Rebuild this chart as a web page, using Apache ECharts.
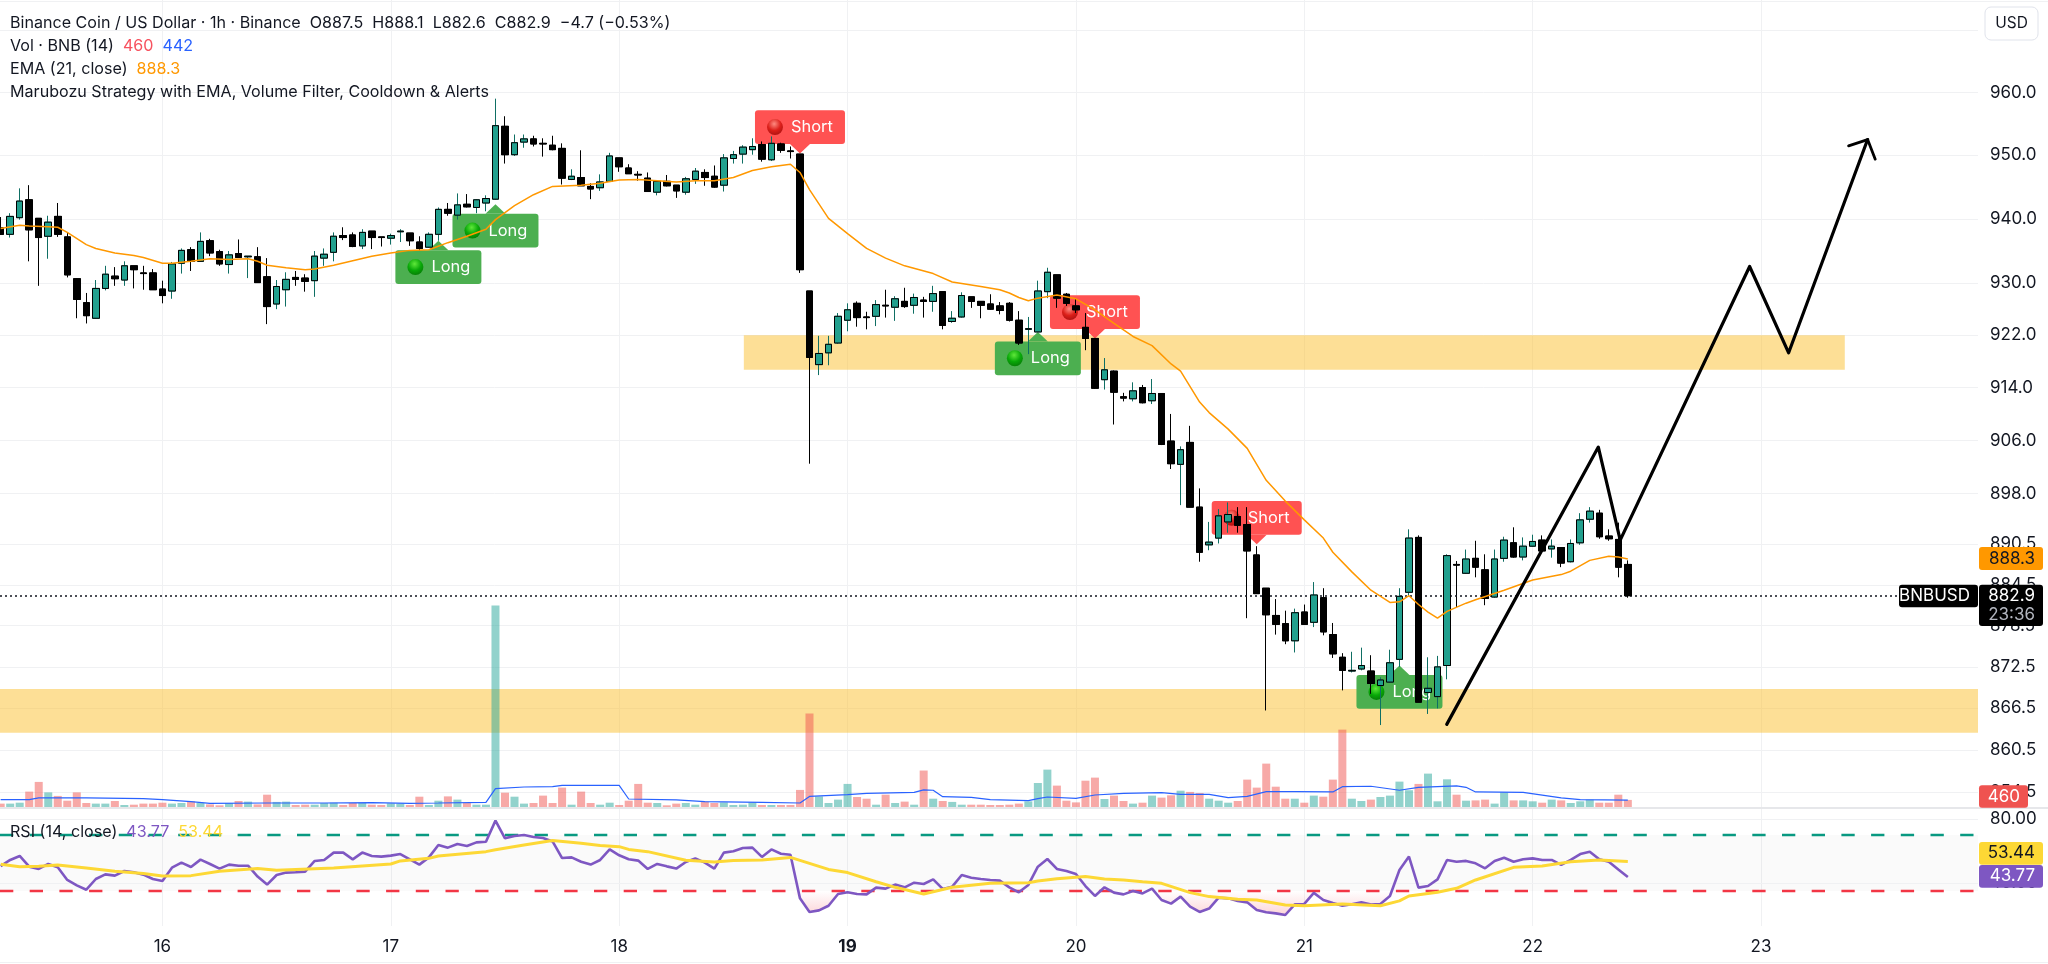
<!DOCTYPE html>
<html><head><meta charset="utf-8">
<style>html,body{margin:0;padding:0;background:#fff}#c{width:2048px;height:964px}</style>
<script src="https://cdn.jsdelivr.net/npm/echarts@6/dist/echarts.min.js"></script></head>
<body><div id="c"></div>
<script>
// Hours since the start of day "16"; first candle is hour -17.
const firstHour = -17;
const dayTicks = [0,24,48,72,96,120,144,168];
const dayLabels = ['16','17','18','19','20','21','22','23'];
const priceTicks = [970,960,950,940,930,922,914,906,898,890.5,884.5,878.5,872.5,866.5,860.5,854.5];
const rsiTicks = [80,40];
// [open, close, low, high]
const ohlc = [
[938.6,937.6,937.5,940.3],[937.6,940.4,937.1,940.9],[940.2,942.8,939.9,944.8],[943.0,938.3,933.4,945.3],[940.1,937.1,929.6,940.1],
[937.3,939.5,933.8,940.5],[940.4,937.6,937.2,942.5],[937.2,931.3,930.9,937.8],[930.7,927.5,924.6,930.8],[927.0,925.0,923.8,928.5],
[924.6,929.2,924.5,930.5],[929.2,931.4,928.9,932.7],[931.1,930.7,929.6,932.5],[930.5,932.7,929.6,933.4],[932.7,932.1,929.2,932.7],
[931.6,931.5,929.0,932.7],[931.6,929.0,929.0,932.2],[929.1,928.1,926.9,930.4],[928.8,933.0,927.6,933.3],[933.1,935.1,931.5,935.4],
[935.2,933.4,931.9,935.6],[933.4,936.5,933.4,937.9],[936.6,934.7,934.2,936.9],[934.9,933.0,932.7,935.2],[932.9,934.4,931.5,935.0],
[934.6,934.0,934.0,936.8],[934.1,934.2,930.8,934.2],[934.1,930.1,930.1,935.6],[931.0,926.4,923.7,933.9],[926.8,929.5,926.0,930.5],
[929.0,930.6,926.4,931.7],[930.9,930.6,929.6,931.9],[930.8,930.3,928.7,931.4],[930.4,934.2,927.9,935.0],[933.9,934.5,932.7,935.4],
[934.8,937.3,933.4,937.9],[937.4,937.1,936.7,938.7],[937.5,935.7,935.6,937.9],[935.8,937.9,935.3,938.4],[938.1,937.1,935.3,938.1],
[937.2,937.1,935.7,937.2],[937.0,937.4,936.0,937.7],[938.0,938.1,936.4,938.4],[937.8,936.6,935.8,937.8],[936.4,935.4,935.1,937.3],
[935.6,937.6,935.5,937.9],[937.6,941.5,936.6,941.8],[941.5,940.9,940.5,942.5],[940.6,942.2,939.9,944.0],[942.3,941.9,941.8,943.9],
[941.8,943.0,940.9,943.1],[942.5,943.2,941.2,943.7],[943.1,954.7,943.0,959.0],[954.6,950.1,948.7,956.2],[950.1,952.0,949.9,953.3],
[952.1,952.6,951.2,953.3],[952.6,951.8,951.4,953.1],[951.9,951.8,949.8,952.7],[951.6,950.9,950.8,953.1],[951.1,946.4,945.4,951.9],
[946.2,946.7,946.1,947.8],[946.5,945.2,945.2,950.8],[945.1,944.7,943.1,945.6],[944.9,945.8,944.4,947.0],[945.9,949.9,945.8,950.4],
[949.6,948.2,947.4,949.6],[948.0,947.1,947.1,948.6],[947.0,946.9,946.0,947.5],[946.4,944.3,944.3,947.3],[944.2,945.9,943.7,946.1],
[945.9,945.2,945.1,946.9],[945.3,944.4,943.3,945.3],[944.2,946.3,943.8,946.6],[946.2,947.5,945.5,948.0],[947.3,946.5,945.2,947.8],
[946.7,945.0,944.9,948.4],[945.3,949.6,944.3,950.2],[949.5,950.1,948.7,950.7],[950.2,951.3,948.7,951.6],[950.9,951.4,950.1,952.7],
[951.7,949.4,949.0,952.2],[949.3,951.9,949.1,953.0],[951.8,950.8,950.4,952.0],[950.7,950.6,949.5,951.4],[950.2,932.1,931.6,950.2],
[928.8,918.6,902.5,928.8],[917.5,919.2,915.9,921.9],[919.3,920.6,917.4,921.9],[920.8,924.9,920.7,925.4],[924.3,925.9,922.6,926.9],
[926.9,924.7,923.3,927.2],[924.8,924.7,922.9,925.6],[924.9,926.7,923.4,927.4],[926.6,926.5,924.7,929.0],[926.3,927.6,924.2,928.0],
[927.2,926.4,926.2,929.3],[926.6,927.8,925.3,928.4],[927.4,927.2,924.7,927.9],[927.2,928.4,925.6,929.6],[928.7,923.5,922.9,928.7],
[924.1,924.6,923.9,925.7],[924.8,928.1,924.7,928.6],[927.9,927.2,926.2,927.9],[927.2,926.6,924.6,927.2],[926.8,926.0,925.9,928.3],
[926.5,925.8,925.2,927.1],[926.9,924.3,924.1,927.1],[924.3,920.8,920.5,925.7],[922.9,923.0,919.1,924.8],[922.5,928.8,922.5,930.4],
[928.7,931.7,927.7,932.4],[931.3,927.7,926.2,931.3],[928.3,926.9,926.5,928.5],[926.5,925.9,925.4,927.6],[923.2,921.5,919.7,925.4],
[921.5,913.9,913.8,921.5],[915.2,916.7,913.7,918.5],[916.5,913.3,908.4,916.6],[912.6,912.4,911.9,913.2],[912.3,913.5,911.9,914.8],
[914.0,911.7,911.6,914.4],[912.0,913.1,911.5,915.3],[913.1,905.4,905.3,913.1],[905.9,902.5,901.7,910.0],[902.4,904.6,896.3,905.1],
[905.7,896.0,896.0,908.2],[896.0,889.3,887.9,898.8],[890.4,890.8,889.6,893.8],[891.4,894.7,890.6,895.7],[893.8,894.9,892.2,896.7],
[894.6,893.3,892.2,896.0],[893.4,889.5,879.6,896.0],[888.9,883.2,883.2,890.2],[884.0,880.1,866.2,884.0],[880.0,878.7,877.2,882.4],
[878.8,876.3,875.8,880.7],[876.3,880.4,874.6,881.0],[880.5,878.7,878.6,881.6],[879.0,883.0,878.3,884.9],[882.6,877.6,877.1,884.0],
[877.2,874.4,873.8,878.9],[873.9,872.0,869.1,874.5],[871.9,872.0,871.7,874.7],[872.2,872.7,872.0,875.3],[871.9,870.1,868.6,874.2],
[869.8,870.6,864.1,871.0],[870.3,873.1,870.2,875.0],[873.6,882.8,872.5,884.0],[883.4,891.4,882.8,892.7],[891.5,867.4,867.4,891.8],
[868.8,869.4,865.7,873.9],[868.2,872.5,866.5,874.1],[872.7,888.8,870.7,889.0],[887.5,887.4,881.2,888.0],[886.2,888.3,886.1,889.7],
[888.4,887.1,885.6,891.0],[886.7,882.5,881.5,889.0],[882.7,888.3,882.6,889.7],[888.4,891.1,887.9,891.6],[890.7,888.6,888.5,893.0],
[888.6,890.2,888.1,891.5],[890.2,890.9,890.1,891.9],[891.1,889.5,889.5,891.8],[889.8,890.2,888.5,891.2],[890.0,887.7,887.1,890.0],
[887.9,890.6,887.8,891.2],[890.7,894.1,890.4,895.1],[894.2,895.4,893.7,896.0],[895.1,891.6,891.3,895.6],[891.7,891.3,891.0,892.7],
[891.2,887.1,885.6,893.7],[887.5,882.9,882.6,888.1]];
const volumes = [220,220,280,1000,1630,950,720,410,950,260,220,220,390,130,150,220,220,280,220,260,370,260,170,110,260,390,350,170,800,330,350,130,150,150,260,280,130,260,260,150,130,240,220,130,670,130,410,690,480,260,150,150,13100,930,670,220,260,740,260,1260,150,1000,260,150,280,130,410,1500,280,260,110,220,260,150,350,260,300,130,150,300,130,130,130,130,1110,6080,690,260,480,1500,650,540,150,800,260,350,150,2370,540,390,330,150,150,150,130,130,150,220,370,1560,2430,1390,410,300,1710,1910,520,740,390,220,280,740,610,760,1060,980,910,540,410,280,390,1780,1260,2820,1320,540,540,280,740,670,1780,5030,540,390,480,650,740,1650,1090,1500,2170,370,1800,800,410,430,480,220,950,430,430,370,280,480,430,260,370,480,280,280,800,460];
const volumeMA = [[0,480],[3,480],[4,590],[9,590],[15,540],[17,480],[20,350],[22,240],[28,260],[34,260],[39,280],[43,240],[46,260],[51,300],[52,1190],[55,1300],[58,1320],[59,1410],[65,1410],[66,520],[71,460],[74,350],[80,300],[84,260],[85,690],[89,800],[91,890],[96,950],[97,1110],[98,1090],[99,670],[102,630],[104,480],[108,410],[109,540],[110,650],[113,560],[115,780],[118,890],[122,930],[124,820],[127,820],[129,610],[131,690],[133,1000],[136,1000],[140,980],[141,1320],[144,1350],[147,1090],[149,1280],[153,1370],[154,1280],[155,980],[160,950],[164,590],[166,480],[171,442]];
const emaPoints = [[0,938.5],[2,939.0],[3,938.9],[5,938.8],[6,938.7],[7,937.9],[9,936.0],[10,935.4],[12,934.7],[14,934.3],[15,934.0],[17,933.1],[18,933.1],[20,933.4],[22,933.8],[24,933.7],[26,933.8],[27,933.4],[28,932.8],[30,932.4],[32,932.1],[33,932.2],[35,932.8],[37,933.5],[39,934.2],[41,934.7],[43,935.1],[45,935.2],[47,936.3],[49,937.3],[51,938.4],[52,939.9],[54,942.1],[56,943.8],[58,945.1],[61,945.3],[63,945.6],[65,946.1],[67,946.2],[69,946.0],[71,945.8],[73,946.0],[75,946.0],[77,946.5],[79,947.6],[81,948.2],[83,948.6],[84,947.3],[85,944.6],[87,940.1],[89,937.7],[91,935.4],[93,933.9],[95,932.7],[98,931.5],[100,930.2],[103,929.5],[105,929.0],[106,928.5],[107,927.8],[108,927.3],[109,927.7],[111,928.2],[113,927.6],[115,925.9],[117,923.8],[119,921.8],[121,920.4],[123,917.6],[124,916.5],[126,911.8],[127,910.2],[129,907.7],[131,904.8],[133,900.0],[135,896.9],[137,894.1],[139,891.4],[140,889.3],[142,886.4],[144,883.7],[146,881.9],[147,882.0],[148,882.9],[149,881.6],[150,880.5],[151,879.6],[152,880.6],[154,881.8],[155,882.3],[158,883.7],[161,885.2],[164,886.0],[165,886.5],[167,888.1],[169,888.7],[170,888.6],[171,888.3]];
const rsi = [50.6,54.4,56.9,50.2,48.8,51.9,49.8,41.9,38.5,35.8,42.5,45.4,44.6,47.5,46.7,45.2,42.5,41.3,49.6,52.7,50.0,54.6,51.9,49.0,51.5,50.8,50.8,44.0,39.0,45.0,46.5,46.7,47.1,53.8,54.4,59.0,59.0,54.8,59.0,56.9,56.5,57.1,58.1,54.8,51.5,56.0,63.8,62.1,64.4,63.1,65.4,65.8,79.0,67.9,69.4,70.0,68.8,68.1,66.0,55.6,56.0,53.3,51.5,54.4,61.0,57.3,54.8,54.0,48.8,51.9,50.4,49.0,53.1,55.4,52.7,49.0,59.0,59.8,61.9,62.1,56.3,61.0,58.3,57.7,30.4,21.9,22.9,25.8,33.1,34.2,33.1,32.9,37.1,36.5,39.0,37.3,40.2,39.4,42.3,36.3,37.7,45.0,43.3,42.5,41.9,41.5,37.3,34.2,38.8,50.2,55.0,48.8,47.5,45.6,38.1,31.9,37.3,34.0,32.9,35.0,33.5,36.5,29.4,27.1,31.5,25.2,21.9,24.0,30.8,30.4,28.8,27.9,23.1,21.7,21.0,20.0,26.7,26.9,33.8,29.4,27.5,25.8,26.7,27.9,26.5,26.9,31.9,48.1,56.5,37.1,38.1,42.3,54.4,53.3,53.8,52.3,49.2,53.8,55.8,53.3,54.8,55.4,54.4,54.4,51.3,54.4,58.1,59.6,54.8,53.3,48.5,43.77];
const rsiMA = [[0,51.7],[2,50.2],[4,50.4],[6,51.3],[9,49.4],[12,47.3],[15,46.0],[17,44.4],[20,44.6],[23,47.3],[27,49.0],[29,47.9],[31,48.5],[35,49.4],[41,51.9],[42,53.8],[45,55.4],[46,56.9],[51,59.6],[52,60.8],[55,63.8],[58,66.5],[61,64.8],[63,63.5],[65,62.7],[66,61.0],[68,59.6],[72,54.2],[75,53.1],[77,54.0],[80,54.4],[83,56.0],[85,52.3],[87,48.5],[89,46.5],[92,40.8],[94,37.3],[97,33.1],[100,37.3],[104,39.8],[108,40.2],[109,41.3],[111,42.7],[114,44.0],[116,42.5],[118,41.9],[120,40.8],[122,39.8],[125,34.0],[127,31.5],[130,29.8],[132,29.4],[135,26.3],[137,25.8],[141,26.9],[145,25.8],[147,28.8],[148,31.9],[151,34.2],[153,36.7],[155,41.9],[159,49.8],[162,50.6],[165,53.3],[168,54.4],[171,53.44]];
const rsiUpper = 70, rsiLower = 35;
// [hour, price at pin tip]
const longSignals = [[29,936.6],[35,942.3],[92,922.5],[130,872.7]];
const shortSignals = [[67,950.3],[98,921.5],[115,890.5]];
// drawn zigzag [hour, price]
const zigzag = [[134.97,864.2],[150.9,905.0],[153.2,891.1],[166.8,932.6],[170.9,919.3],[179.2,952.5]];
const arrowHead = [[177.2,951.5],[179.2,952.5],[180,949.4]];
const zoneUpper = {x:[61.1,176.8], y:[922,916.7]};
const zoneLower = {y:[869.3,863.0]};
const lastClose = 882.9;

const X_MIN = -17.07, X_MAX = 190.8, GRID_W = 1978;
const INK = '#131722', FONT = 'Inter', AXIS_FS = 17, LEG_FS = 16.1;
const hours = ohlc.map((_, i) => firstHour + i);
const hr = i => firstHour + i;
const isUp = i => ohlc[i][1] >= ohlc[i][0];
const fullCandles = ohlc.map((r, i) => [hours[i], r[0], r[1], r[2], r[3]]);
const bodyCandles = ohlc.map((r, i) => [hours[i], r[0], r[1], Math.min(r[0], r[1]), Math.max(r[0], r[1])]);
const gridLine = '#f0f1f3';

function xAxis(idx, extra) {
  return Object.assign({
    type:'value', gridIndex:idx, min:X_MIN, max:X_MAX,
    axisLine:{show:false},
    axisTick:{show:false, customValues:dayTicks},
    axisLabel:{show:false, customValues:dayTicks},
    splitLine:{show:false}
  }, extra||{});
}
function pin(isLong, list) {
  return {
    type:'custom', xAxisIndex:0, yAxisIndex:0, z:3, clip:false, silent:true,
    encode:{x:0,y:1}, data:list,
    renderItem(params, api) {
      const p = api.coord([api.value(0), api.value(1)]);
      const w = isLong ? 86 : 90, h = 33.7, gap = 9.5;
      const left = p[0] - w/2, top = isLong ? p[1]+gap : p[1]-gap-h;
      const base = isLong ? top : top+h;
      const fill = isLong ? '#4caf50' : '#ff5252';
      const ball = isLong
        ? [{offset:0,color:'#5fe83a'},{offset:.55,color:'#08a808'},{offset:1,color:'#057a05'}]
        : [{offset:0,color:'#ff8a80'},{offset:.55,color:'#dc1f1a'},{offset:1,color:'#a81010'}];
      return {type:'group', children:[
        {type:'rect', shape:{x:left,y:top,width:w,height:h,r:3}, style:{fill}},
        {type:'polygon', shape:{points:[[p[0],p[1]],[p[0]-10,base],[p[0]+10,base]]}, style:{fill}},
        {type:'circle', shape:{cx:left+20,cy:top+h/2,r:8}, style:{fill:{type:'radial',x:.45,y:.3,r:.75,colorStops:ball}}},
        {type:'text', style:{x:left+36,y:top+h/2,text:isLong?'Long':'Short',fill:'#fff',font:'400 16.4px '+FONT,verticalAlign:'middle',textAlign:'left'}}
      ]};
    }
  };
}
const priceMarks = {
  type:'line', xAxisIndex:0, yAxisIndex:0, data:[], z:0, silent:true,
  markLine:{silent:true, symbol:['none','none'], animation:false, z:0,
    lineStyle:{color:gridLine,width:1,type:'solid'},
    label:{position:'end',distance:12,color:INK,fontFamily:FONT,fontSize:AXIS_FS,formatter:p=>p.value===970?'':Number(p.value).toFixed(1)},
    data:priceTicks.map(v=>({yAxis:v}))}
};
const zones = {
  type:'line', xAxisIndex:0, yAxisIndex:0, data:[], z:1, silent:true,
  markArea:{silent:true, animation:false, itemStyle:{color:'rgba(251,192,45,0.5)'},
    data:[
      [{xAxis:zoneUpper.x[0],yAxis:zoneUpper.y[0]},{xAxis:zoneUpper.x[1],yAxis:zoneUpper.y[1]}],
      [{yAxis:zoneLower.y[0]},{yAxis:zoneLower.y[1]}]
    ]}
};
const lastLine = {
  type:'line', xAxisIndex:0, yAxisIndex:0, data:[], z:7, silent:true,
  markLine:{silent:true, symbol:['none','none'], animation:false, label:{show:false},
    lineStyle:{color:'#131722',width:1.5,type:[2,3]}, data:[{yAxis:lastClose}]}
};
const rsiMarks = {
  type:'line', xAxisIndex:2, yAxisIndex:2, data:[], z:0, silent:true,
  markArea:{silent:true, animation:false, itemStyle:{color:'rgba(40,40,60,0.025)'},
    data:[[{yAxis:rsiUpper},{yAxis:rsiLower}]]},
  markLine:{silent:true, symbol:['none','none'], animation:false, z:1,
    lineStyle:{color:gridLine,width:1,type:'solid'},
    label:{position:'end',distance:12,color:INK,fontFamily:FONT,fontSize:AXIS_FS,formatter:p=>Number(p.value).toFixed(2)},
    data:[{yAxis:rsiTicks[0]},{yAxis:rsiTicks[1]},
      {yAxis:rsiUpper,label:{show:false},lineStyle:{color:'#089981',width:2.4,type:[13.3,16.4]}},
      {yAxis:rsiLower,label:{show:false},lineStyle:{color:'#f23645',width:2.4,type:[13.3,16.4]}}]}
};

const chart = echarts.init(document.getElementById('c'), null, {renderer:'canvas'});
const tag = (x,y,w,h,fill,text,color,sub) => ({type:'group', z:50, children:[
  {type:'rect', z:50, shape:{x,y,width:w,height:h,r:3}, style:{fill}},
  {type:'text', z:51, style:{x:x+w-8,y:y+h/2-(sub?9.5:0),text,fill:color,font:'400 '+AXIS_FS+'px '+FONT,textAlign:'right',textVerticalAlign:'middle'}},
  ...(sub?[{type:'text', z:51, style:{x:x+w-8,y:y+h/2+9.5,text:sub,fill:'#b2b5be',font:'400 '+AXIS_FS+'px '+FONT,textAlign:'right',textVerticalAlign:'middle'}}]:[])
]});
const richPart = fill => ({fontFamily:FONT,fontSize:LEG_FS,fill,color:fill});
const legendRich = {k:richPart(INK),r:richPart('#f7525f'),b:richPart('#2962ff'),o:richPart('#ff9800'),p:richPart('#7e57c2'),y:richPart('#fdd835')};
const legendLine = (y,t) => ({type:'text', z:60, left:10, top:y-7.5, style:{text:t, rich:legendRich, font:'400 '+LEG_FS+'px '+FONT, fill:INK}});

chart.setOption({
  animation:false, backgroundColor:'#fff',
  grid:[
    {left:0, top:0, width:GRID_W, height:808},
    {left:0, top:600, width:GRID_W, height:207},
    {left:0, top:808, width:GRID_W, height:118}
  ],
  xAxis:[
    xAxis(0,{splitLine:{show:true,lineStyle:{color:gridLine,width:1}}}),
    xAxis(1),
    xAxis(2,{splitLine:{show:true,lineStyle:{color:gridLine,width:1}},
      axisLabel:{show:true,customValues:dayTicks,margin:12,color:INK,fontFamily:FONT,fontSize:AXIS_FS,
        formatter:v=>{const s=dayLabels[dayTicks.indexOf(v)]||'';return s==='19'?'{b|'+s+'}':s;},
        rich:{b:{fontWeight:700,fontFamily:FONT,fontSize:AXIS_FS,color:INK}}}})
  ],
  yAxis:[
    {type:'log',gridIndex:0,min:852.26,max:974.87,axisLine:{show:false},axisTick:{show:false},axisLabel:{show:false},splitLine:{show:false}},
    {type:'value',gridIndex:1,min:0,max:13455,axisLine:{show:false},axisTick:{show:false},axisLabel:{show:false},splitLine:{show:false}},
    {type:'value',gridIndex:2,min:13.125,max:86.875,axisLine:{show:false},axisTick:{show:false},axisLabel:{show:false},splitLine:{show:false}}
  ],
  series:[
    priceMarks, zones,
    {type:'bar',name:'Vol',xAxisIndex:1,yAxisIndex:1,z:2,barWidth:8,silent:true,
      data:volumes.map((v,i)=>({value:[hours[i],v],itemStyle:{color:isUp(i)?'rgba(38,166,154,0.5)':'rgba(239,83,80,0.5)'}}))},
    {type:'line',name:'Vol MA',xAxisIndex:1,yAxisIndex:1,z:2,symbol:'none',silent:true,lineStyle:{color:'#2962ff',width:1.2},
      data:volumeMA.map(d=>[hr(d[0]),d[1]])},
    pin(true,longSignals.map(d=>[d[0],d[1]])),
    pin(false,shortSignals.map(d=>[d[0],d[1]])),
    {type:'candlestick',name:'wicks',xAxisIndex:0,yAxisIndex:0,z:4,barWidth:7,silent:true,encode:{x:0,y:[1,2,3,4]},
      itemStyle:{color:'#22a08e',color0:'#000',borderColor:'#0f6f64',borderColor0:'#000',borderWidth:1},data:fullCandles},
    {type:'candlestick',name:'BNBUSD',xAxisIndex:0,yAxisIndex:0,z:5,barWidth:7,silent:true,encode:{x:0,y:[1,2,3,4]},
      itemStyle:{color:'#22a08e',color0:'#000',borderColor:'#000',borderColor0:'#000',borderWidth:1},data:bodyCandles},
    {type:'line',name:'EMA',xAxisIndex:0,yAxisIndex:0,z:6,symbol:'none',silent:true,lineStyle:{color:'#ff9800',width:1.5},
      data:emaPoints.map(d=>[hr(d[0]),d[1]])},
    lastLine,
    {type:'line',name:'zigzag',xAxisIndex:0,yAxisIndex:0,z:8,symbol:'none',silent:true,lineStyle:{color:'#000',width:3.2,cap:'round',join:'round'},data:zigzag},
    {type:'line',name:'arrow',xAxisIndex:0,yAxisIndex:0,z:8,symbol:'none',silent:true,lineStyle:{color:'#000',width:2.8,cap:'round',join:'round'},data:arrowHead},
    rsiMarks,
    {type:'line',name:'RSI fill',xAxisIndex:2,yAxisIndex:2,z:2,symbol:'none',silent:true,lineStyle:{width:0},
      areaStyle:{origin:rsiLower,color:{type:'linear',x:0,y:0,x2:0,y2:1,colorStops:[{offset:0,color:'rgba(242,54,69,0)'},{offset:1,color:'rgba(242,54,69,0.3)'}]}},
      data:rsi.map((v,i)=>[hours[i],Math.min(v,rsiLower)])},
    {type:'line',name:'RSI',xAxisIndex:2,yAxisIndex:2,z:3,symbol:'none',silent:true,lineStyle:{color:'#7e57c2',width:2.6},
      data:rsi.map((v,i)=>[hours[i],v])},
    {type:'line',name:'RSI MA',xAxisIndex:2,yAxisIndex:2,z:4,symbol:'none',silent:true,lineStyle:{color:'#fdd835',width:3},
      data:rsiMA.map(d=>[hr(d[0]),d[1]])}
  ],
  graphic:[
    legendLine(22.7,'Binance Coin / US Dollar · 1h · Binance  O887.5  H888.1  L882.6  C882.9  −4.7 (−0.53%)'),
    legendLine(45.7,'{k|Vol · BNB (14)}  {r|460}  {b|442}'),
    legendLine(68.7,'{k|EMA (21, close)}  {o|888.3}'),
    legendLine(91.7,'Marubozu Strategy with EMA, Volume Filter, Cooldown & Alerts'),
    legendLine(831.5,'{k|RSI (14, close)}  {p|43.77}  {y|53.44}'),
    {type:'rect',z:40,shape:{x:0,y:807,width:2048,height:2},style:{fill:'#e6e7ea'}},
    {type:'rect',z:40,shape:{x:0,y:1,width:2048,height:1},style:{fill:'#f0f1f3'}},
    {type:'rect',z:40,shape:{x:0,y:962,width:2048,height:1},style:{fill:'#f0f1f3'}},
    {type:'rect',z:45,shape:{x:1985,y:7,width:53,height:33,r:6},style:{fill:'#fff',stroke:'#e0e3eb',lineWidth:1}},
    {type:'text',z:46,style:{x:2011.5,y:23.5,text:'USD',fill:INK,font:'400 15.5px '+FONT,textAlign:'center',textVerticalAlign:'middle'}},
    tag(1979,547,64,23,'#ff9800','888.3','#131722'),
    tag(1899,584.7,79,22.6,'#000','BNBUSD','#fff'),
    tag(1979,584.7,64,41.3,'#000','882.9','#fff','23:36'),
    tag(1979,785.3,49,22.4,'#ef5350','460','#fff'),
    tag(1979,842,64,22.7,'#fdd835','53.44','#131722'),
    tag(1979,865,64,22.7,'#7e57c2','43.77','#fff')
  ]
});
</script></body></html>
